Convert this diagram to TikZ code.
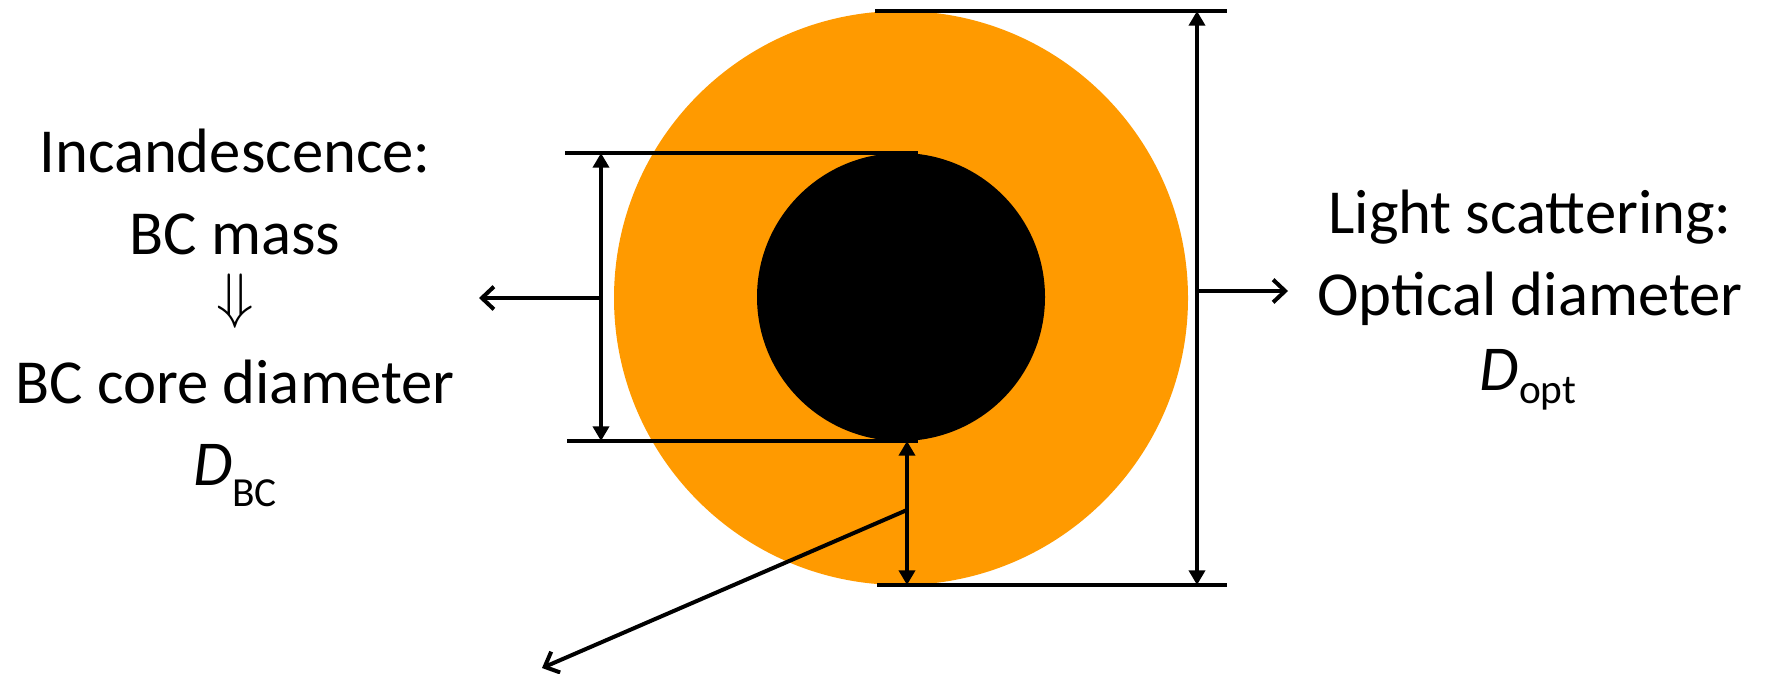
\documentclass[tikz,border=0pt]{standalone}
\usepackage{graphicx}
\usepackage{fontspec}
\setmainfont{Carlito}
\usetikzlibrary{arrows.meta}
\definecolor{shellorange}{HTML}{FF9A00}
\begin{document}
\begin{tikzpicture}[x=0.75pt,y=-0.75pt,
  dimline/.style={line width=2.6pt},
  dimarrow/.style={line width=3pt, {Triangle[length=11pt,width=12pt]}-{Triangle[length=11pt,width=12pt]}},
  pointer/.style={line width=3pt, -{Straight Barb[length=9pt,width=17pt]}},
  lbl/.style={font=\fontsize{47}{56}\selectfont, inner sep=0pt, anchor=base},
]
\useasboundingbox (0,0) rectangle (1766,674);
% particle
\node[circle, fill=shellorange, minimum size=430.5pt, inner sep=0pt] (shell) at (901,298) {};
\node[circle, fill=black, minimum size=216pt, inner sep=0pt] (core) at (901,297) {};
% coordinates
\coordinate (otl) at (875,11);  \coordinate (otr) at (1227,11);
\coordinate (obl) at (877,585); \coordinate (obr) at (1227,585);
\coordinate (ot) at (1197,11);  \coordinate (ob) at (1197,585);
\coordinate (itl) at (565,153); \coordinate (itr) at (918,153);
\coordinate (ibl) at (567,441); \coordinate (ibr) at (918,441);
\coordinate (it) at (601,153);  \coordinate (ib) at (601,441);
\coordinate (st) at (907,441);  \coordinate (sb) at (907,585);
\coordinate (lp) at (601,298);  \coordinate (lpe) at (479,298);
\coordinate (rp) at (1197,291); \coordinate (rpe) at (1288,291);
\coordinate (sp) at (907,510);  \coordinate (spe) at (542,668);
% dimension lines
\draw[dimline] (otl) -- (otr);
\draw[dimline] (obl) -- (obr);
\draw[dimline] (itl) -- (itr);
\draw[dimline] (ibl) -- (ibr);
\draw[dimarrow] (ot) -- (ob);
\draw[dimarrow] (it) -- (ib);
\draw[dimarrow] (st) -- (sb);
% pointers
\draw[pointer] (lp) -- (lpe);
\draw[pointer] (rp) -- (rpe);
\draw[pointer] (sp) -- (spe);
% left text
\node[lbl] (inc) at (235,172) {Incandescence:};
\node[lbl] (mass) at (235,254) {BC mass};
\node[inner sep=0pt] (impl) at (235,301) {\scalebox{4.6}{$\Downarrow$}};
\node[lbl] (cored) at (235,403) {BC core diameter};
\node[lbl] (dbc) at (235,485) {\fontsize{48}{56}\selectfont\itshape D\raisebox{-15.75pt}{\upshape\fontsize{31}{36}\selectfont BC}};
% right text
\node[lbl] (ls) at (1530,233) {Light scattering:};
\node[lbl] (od) at (1530,315) {Optical diameter};
\node[lbl] (dopt) at (1528,390) {\fontsize{48}{56}\selectfont\itshape D\raisebox{-9.75pt}{\upshape\fontsize{31}{36}\selectfont opt}};
\end{tikzpicture}
\end{document}
